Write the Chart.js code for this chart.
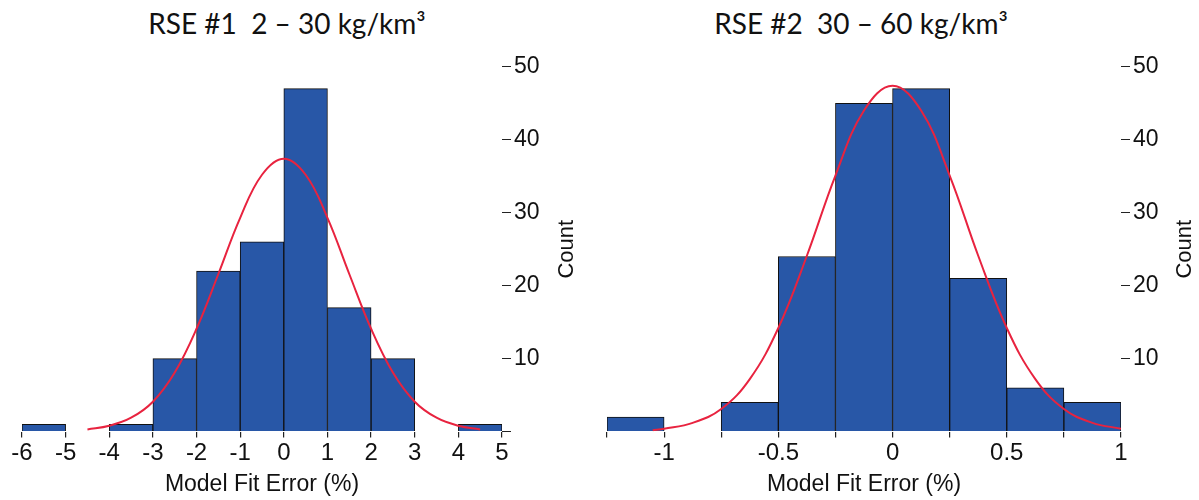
<!DOCTYPE html>
<html lang="en">
<head>
  <meta charset="UTF-8" />
  <title>Model Fit Error Histograms</title>
  <style>
    body {
      margin: 0;
      background: #fff;
      font-family: "Liberation Sans", Arial, sans-serif;
    }
    #wrap {
      position: relative;
      width: 1199px;
      height: 500px;
    }
    .title {
      position: absolute;
      top: 6px;
      font-family: Lato, "Open Sans", sans-serif;
      font-size: 28px;
      color: #111;
      white-space: pre;
      transform: translateX(-50%);
    }
    .box {
      position: absolute;
      top: 50px;
      height: 450px;
    }
  </style>
</head>
<body>
  <div id="wrap">
    <div class="title" style="left:287px;">RSE #1  2 – 30 kg/km³</div>
    <div class="title" style="left:861px;">RSE #2  30 – 60 kg/km³</div>
    <div class="box" style="left:0;width:590px;"><canvas id="left"></canvas></div>
    <div class="box" style="left:590px;width:609px;"><canvas id="right"></canvas></div>
  </div>

  <script src="https://cdn.jsdelivr.net/npm/chart.js"></script>
  <script>
    // RSE #1 histogram (bin width 1 %)
    const binCenters1 = [-5.5, -4.5, -3.5, -2.5, -1.5, -0.5, 0.5, 1.5, 2.5, 3.5, 4.5];
    const counts1     = [1, 0, 1, 10, 22, 26, 47, 17, 10, 0, 1];
    const curveX1 = [-4.5, -4, -3.5, -3, -2.5, -2, -1.5, -1, -0.5, 0, 0.5, 1, 1.5, 2, 2.5, 3, 3.5, 4, 4.5];
    const curveY1 = [0.3, 0.8, 1.9, 4.1, 8.1, 14.1, 21.6, 29.3, 35.2, 37.4, 35.2, 29.3, 21.6, 14.1, 8.1, 4.1, 1.9, 0.8, 0.3];

    // RSE #2 histogram (bin width 0.25 %)
    const binCenters2 = [-1.125, -0.875, -0.625, -0.375, -0.125, 0.125, 0.375, 0.625, 0.875];
    const counts2     = [2, 0, 4, 24, 45, 47, 21, 6, 4];
    const curveX2 = [-1.05, -1, -0.875, -0.75, -0.625, -0.5, -0.375, -0.25, -0.125, 0, 0.125, 0.25, 0.375, 0.5, 0.625, 0.75, 0.875, 1];
    const curveY2 = [0.2, 0.4, 1.2, 3.1, 7.2, 14.2, 24.1, 35.1, 44.0, 47.4, 44.0, 35.1, 24.1, 14.2, 7.2, 3.1, 1.2, 0.4];

    const yTicks = [0, 10, 20, 30, 40, 50];

    const BAR = '#2857a7';
    const RED = '#e8233f';

    // rotated "Count" label, reads bottom to top
    const countLabel = {
      id: 'countLabel',
      afterDraw(chart, args, opts) {
        const { ctx, chartArea } = chart;
        ctx.save();
        ctx.translate(chartArea.right + opts.dx, (chartArea.top + chartArea.bottom) / 2);
        ctx.rotate(-Math.PI / 2);
        ctx.font = '22px "Liberation Sans"';
        ctx.fillStyle = '#111';
        ctx.textAlign = 'center';
        ctx.textBaseline = 'middle';
        ctx.fillText('Count', 0, 0);
        ctx.restore();
      }
    };

    function makeHist(id, centers, counts, cx, cy, xOpts, pad, yWidth, countDx, zeroTick) {
      const bars = centers.map((x, i) => ({ x: x, y: counts[i] === 0 ? null : counts[i] }));
      const curve = cx.map((x, i) => ({ x: x, y: cy[i] }));
      new Chart(document.getElementById(id), {
        type: 'bar',
        data: {
          datasets: [
            {
              type: 'line',
              data: curve,
              borderColor: RED,
              borderWidth: 2,
              pointRadius: 0,
              tension: 0.4,
              order: 0
            },
            {
              type: 'bar',
              data: bars,
              backgroundColor: BAR,
              borderColor: '#111',
              borderWidth: 1,
              borderSkipped: 'bottom',
              barPercentage: 1,
              categoryPercentage: 1,
              order: 1
            }
          ]
        },
        options: {
          responsive: true,
          maintainAspectRatio: false,
          animation: false,
          layout: { padding: pad },
          plugins: {
            legend: { display: false },
            tooltip: { enabled: false },
            countLabel: { dx: countDx }
          },
          scales: {
            x: {
              type: 'linear',
              offset: false,
              min: xOpts.min,
              max: xOpts.max,
              border: { display: false },
              grid: { offset: false, drawOnChartArea: false, drawTicks: true, tickLength: 6, color: '#222', lineWidth: 1.2 },
              ticks: {
                stepSize: xOpts.step,
                autoSkip: false,
                maxRotation: 0,
                padding: 1,
                color: '#111',
                font: { family: 'Liberation Sans', size: 24 },
                callback: xOpts.label
              },
              title: {
                display: true,
                text: 'Model Fit Error (%)',
                color: '#111',
                font: { family: 'Liberation Sans', size: 23 },
                padding: { top: 2, bottom: 0 }
              }
            },
            y: {
              position: 'right',
              min: 0,
              max: 50,
              afterFit(scale) { scale.width = yWidth; },
              afterBuildTicks(scale) { scale.ticks = yTicks.map(v => ({ value: v })); },
              border: { display: false },
              grid: {
                drawOnChartArea: false,
                drawTicks: true,
                tickLength: 9,
                color: ctx => (ctx.tick && ctx.tick.value === 0 && !zeroTick ? 'rgba(0,0,0,0)' : '#222')
              },
              ticks: {
                padding: 3,
                color: '#111',
                font: { family: 'Liberation Sans', size: 23 },
                callback: v => (v === 0 ? '' : v)
              }
            }
          }
        },
        plugins: [countLabel]
      });
    }

    makeHist('left', binCenters1, counts1, curveX1, curveY1,
      { min: -6, max: 5, step: 1, label: v => v },
      { left: 22, right: 38, top: 15, bottom: 2 }, 50, 65, true);

    makeHist('right', binCenters2, counts2, curveX2, curveY2,
      { min: -1.25, max: 1, step: 0.25, label: v => (Number.isInteger(v * 2) ? v : '') },
      { left: 17, right: 33, top: 15, bottom: 2 }, 45, 64, false);
  </script>
</body>
</html>
